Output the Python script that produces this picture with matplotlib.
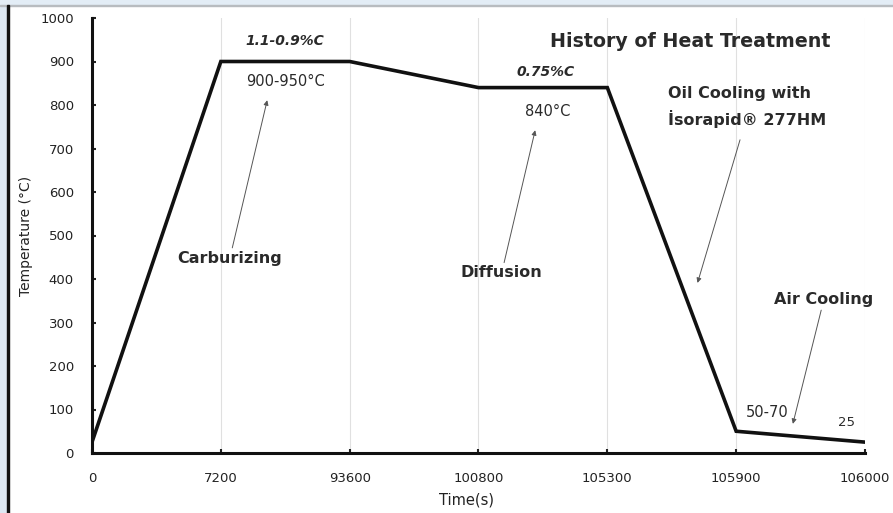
import matplotlib.pyplot as plt
from matplotlib.patches import Rectangle

plt.rcParams['font.family'] = ['DejaVu Sans']

times = ["0", "7200", "93600", "100800", "105300", "105900", "106000"]
temps = [25, 900, 900, 840, 840, 50, 25]
yticks = list(range(0, 1001, 100))

fig = plt.figure(figsize=(8.93, 5.13), dpi=100)
fig.patch.set_facecolor("white")

# screenshot frame: light blue strips and dark edge
fig.patches.append(Rectangle((0, 0), 8 / 893, 1, transform=fig.transFigure,
                             color="#dde8f3", zorder=0))
fig.patches.append(Rectangle((0, 1 - 5 / 513), 1, 5 / 513, transform=fig.transFigure,
                             color="#e3edf6", zorder=0))
fig.patches.append(Rectangle((0, 1 - 6 / 513), 1, 1.2 / 513, transform=fig.transFigure,
                             color="#b8bcc0", zorder=0))
fig.patches.append(Rectangle((7 / 893, 0), 2.2 / 893, 1 - 5 / 513, transform=fig.transFigure,
                             color="#111111", zorder=0))

ax = fig.add_axes([92 / 893, 1 - 453 / 513, (865 - 92) / 893, (453 - 18) / 513])
xs = list(range(len(times)))

for x in xs[1:]:
    ax.axvline(x, color="#e0e0e0", lw=0.8, zorder=0)

ax.plot(xs, temps, color="#111111", lw=2.6, solid_joinstyle="miter", zorder=3)

ax.set_xlim(0, 6)
ax.set_ylim(0, 1000)
ax.set_xticks(xs)
ax.set_xticklabels(times)
ax.set_yticks(yticks)
ax.tick_params(axis="both", direction="in", length=3, width=1.5, labelsize=9.5,
               colors="#222222")
ax.tick_params(axis="y", pad=13)
ax.tick_params(axis="x", pad=14)
for s in ["top", "right"]:
    ax.spines[s].set_visible(False)
for s in ["left", "bottom"]:
    ax.spines[s].set_linewidth(2.2)
    ax.spines[s].set_color("#111111")

ax.set_ylabel("Temperature (°C)", fontsize=10, color="#222222")
ax.yaxis.set_label_coords(-0.076, 0.5)
ax.set_xlabel("Time(s)", fontsize=10.5, color="#222222")
ax.xaxis.set_label_coords(0.484, -0.09)

txt = dict(ha="center", va="center", color="#2a2a2a")
ax.text(1.50, 948, "1.1-0.9%C", fontsize=10, style="italic", fontweight="bold", **txt)
ax.text(1.50, 853, "900-950°C", fontsize=10.5, **txt)
ax.text(3.52, 875, "0.75%C", fontsize=10, style="italic", fontweight="bold", **txt)
ax.text(3.54, 784, "840°C", fontsize=10.5, **txt)
ax.text(4.64, 946, "History of Heat Treatment", fontsize=13.7, fontweight="bold", **txt)
ax.text(4.47, 795, "Oil Cooling with\nİsorapid® 277HM", fontsize=11.5, fontweight="bold",
        ha="left", va="center", color="#2a2a2a", linespacing=1.6)
ax.text(5.24, 92, "50-70", fontsize=10.5, **txt)
ax.text(5.86, 71, "25", fontsize=9.5, **txt)

arrow = dict(arrowstyle="-|>", lw=0.7, color="#555555", mutation_scale=7,
             shrinkA=0, shrinkB=0)
ax.annotate("Carburizing", xy=(1.36, 811), xytext=(1.07, 448), fontsize=11.5,
            fontweight="bold", arrowprops=arrow, **txt)
ax.annotate("Diffusion", xy=(3.44, 742), xytext=(3.18, 414), fontsize=11.5,
            fontweight="bold", arrowprops=arrow, **txt)
ax.annotate("", xy=(4.70, 391), xytext=(5.03, 720), arrowprops=arrow)
ax.annotate("Air Cooling", xy=(5.44, 67), xytext=(5.68, 352), fontsize=11.5,
            fontweight="bold", arrowprops=arrow, **txt)

fig.savefig("out.png", dpi=100)
